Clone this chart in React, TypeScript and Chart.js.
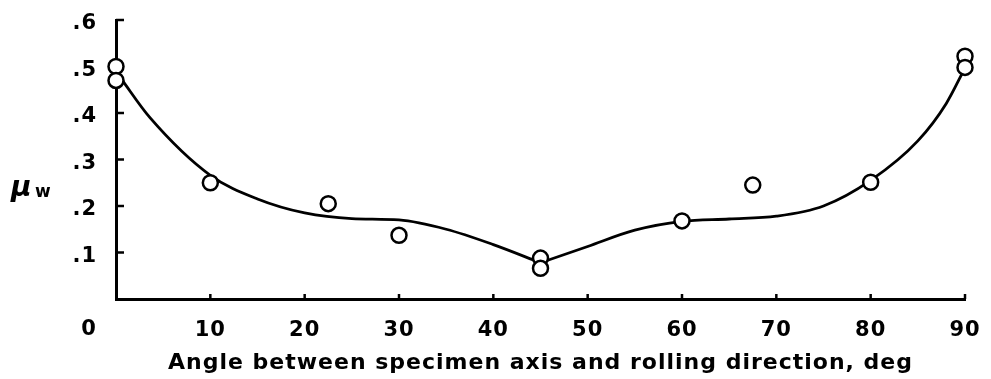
import React, { useEffect, useRef } from "react";
import { Chart, registerables } from "chart.js";

Chart.register(...registerables);

// Measured data points (angle in deg, mu_w)
const pointAngles = [0, 0, 10, 22.5, 30, 45, 45, 60, 67.5, 80, 90, 90];
const pointMu = [0.5, 0.47, 0.25, 0.205, 0.137, 0.088, 0.066, 0.168, 0.245, 0.251, 0.522, 0.498];

// Faired curve, left branch (0 -> 45 deg)
const curveLeftAngles = [0.5, 3.6, 10, 15, 20, 25, 30, 35, 40, 45];
const curveLeftMu = [0.475, 0.39, 0.266, 0.215, 0.185, 0.173, 0.17, 0.15, 0.117, 0.078];

// Faired curve, right branch (45 -> 90 deg)
const curveRightAngles = [45, 50, 55, 60, 65, 70, 75, 80, 85, 88, 90];
const curveRightMu = [0.078, 0.113, 0.148, 0.167, 0.172, 0.178, 0.2, 0.255, 0.34, 0.42, 0.497];

const xTickValues = [0, 10, 20, 30, 40, 50, 60, 70, 80, 90];
const yTickValues = [0.1, 0.2, 0.3, 0.4, 0.5, 0.6];

const xTitle = "Angle between specimen axis and rolling direction, deg";

const FONT = "'DejaVu Sans', sans-serif";

const decorPlugin = {
  id: "decor",
  beforeDraw(chart: any) {
    (chart.ctx as any).letterSpacing = "1px";
  },
  beforeDatasetsDraw(chart: any) {
    const { ctx, scales } = chart;
    const x = scales.x;
    const y = scales.y;
    ctx.save();
    ctx.strokeStyle = "#000";
    ctx.lineWidth = 2.5;
    ctx.lineCap = "butt";
    for (const v of yTickValues) {
      const py = y.getPixelForValue(v);
      ctx.beginPath();
      ctx.moveTo(x.left, py);
      ctx.lineTo(x.left + 8, py);
      ctx.stroke();
    }
    for (const v of xTickValues) {
      if (v === 0) continue;
      const px = x.getPixelForValue(v);
      ctx.beginPath();
      ctx.moveTo(px, y.bottom);
      ctx.lineTo(px, y.bottom - 5);
      ctx.stroke();
    }
    ctx.restore();
  },
  afterDraw(chart: any) {
    const { ctx, scales } = chart;
    const x = scales.x;
    const y = scales.y;
    ctx.save();
    ctx.fillStyle = "#000";
    // the "0" label of the x axis sits left of the origin
    ctx.font = `bold 21px ${FONT}`;
    ctx.textAlign = "center";
    ctx.textBaseline = "middle";
    ctx.fillText("0", x.getPixelForValue(0) - 27, y.bottom + 31);
    // y axis label mu_w
    ctx.textAlign = "left";
    ctx.textBaseline = "alphabetic";
    ctx.font = `bold italic 28px ${FONT}`;
    ctx.fillText("\u03bc", 11, 196);
    ctx.font = `bold 17px ${FONT}`;
    ctx.fillText("w", 35, 197);
    ctx.restore();
    (ctx as any).letterSpacing = "0px";
  },
};

export default function App() {
  const ref = useRef<HTMLCanvasElement | null>(null);

  useEffect(() => {
    if (!ref.current) return;
    const points = pointAngles.map((a, i) => ({ x: a, y: pointMu[i] }));
    const left = curveLeftAngles.map((a, i) => ({ x: a, y: curveLeftMu[i] }));
    const right = curveRightAngles.map((a, i) => ({ x: a, y: curveRightMu[i] }));

    const chart = new Chart(ref.current, {
      type: "line",
      data: {
        datasets: [
          {
            data: points,
            showLine: false,
            pointStyle: "circle",
            pointRadius: 7.5,
            pointBorderWidth: 2.5,
            pointBackgroundColor: "#fff",
            pointBorderColor: "#000",
            borderColor: "#000",
            clip: false as any,
          },
          {
            data: left,
            borderColor: "#000",
            borderWidth: 2.8,
            pointRadius: 0,
            cubicInterpolationMode: "monotone",
            fill: false,
          },
          {
            data: right,
            borderColor: "#000",
            borderWidth: 2.8,
            pointRadius: 0,
            cubicInterpolationMode: "monotone",
            fill: false,
          },
        ],
      },
      options: {
        animation: false,
        responsive: false,
        events: [],
        layout: { padding: { left: 0, top: 20, right: 26, bottom: 0 } },
        plugins: {
          legend: { display: false },
          tooltip: { enabled: false },
          title: { display: false },
        },
        scales: {
          x: {
            type: "linear",
            min: 0,
            max: 90,
            afterFit: (s: any) => {
              s.height = 80;
              s.paddingLeft = 0;
              s.paddingRight = 0;
            },
            afterBuildTicks: (s: any) => {
              s.ticks = xTickValues.map((v) => ({ value: v }));
            },
            grid: { display: true, drawOnChartArea: false, drawTicks: false },
            border: { display: true, color: "#000", width: 3 },
            ticks: {
              color: "#000",
              font: { family: FONT, size: 21, weight: "bold" },
              padding: 19,
              maxRotation: 0,
              autoSkip: false,
              callback: (v: any) => (v === 0 ? "" : String(v)),
            },
            title: {
              display: true,
              text: xTitle,
              color: "#000",
              font: { family: FONT, size: 22, weight: "bold" },
              padding: { top: 0, bottom: 3 },
            },
          },
          y: {
            type: "linear",
            min: 0,
            max: 0.6,
            afterFit: (s: any) => {
              s.width = 116;
              s.paddingTop = 0;
              s.paddingBottom = 0;
            },
            afterBuildTicks: (s: any) => {
              s.ticks = [0, ...yTickValues].map((v) => ({ value: v }));
            },
            grid: { display: true, drawOnChartArea: false, drawTicks: false },
            border: { display: true, color: "#000", width: 3 },
            ticks: {
              color: "#000",
              font: { family: FONT, size: 21, weight: "bold" },
              padding: 19,
              labelOffset: 4,
              callback: (v: any) => (v === 0 ? "" : Number(v).toFixed(1).replace(/^0/, "")),
            },
          },
        },
      },
      plugins: [decorPlugin],
    } as any);

    return () => chart.destroy();
  }, []);

  return (
    <div style={{ position: "fixed", left: 0, top: 0, width: 991, height: 379, background: "#fff" }}>
      <canvas ref={ref} width={991} height={379} style={{ display: "block" }} />
    </div>
  );
}
